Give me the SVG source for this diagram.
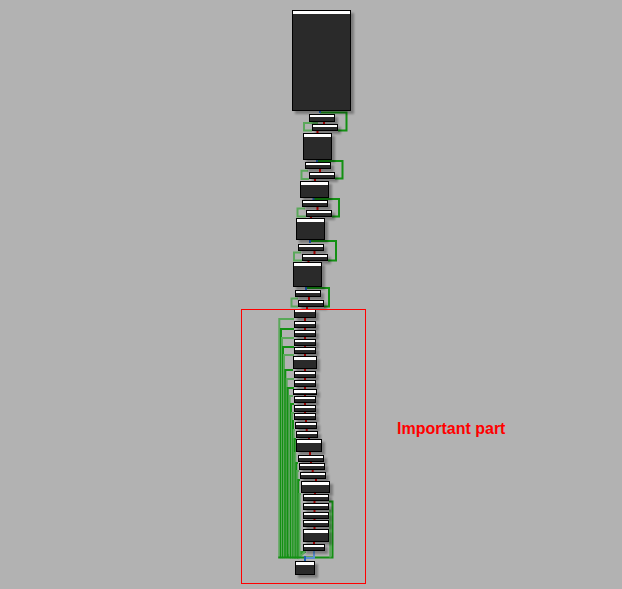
<svg xmlns="http://www.w3.org/2000/svg" width="622" height="589" viewBox="0 0 622 589">
<style>
.bx{fill:#2b2b2b;stroke:#000;stroke-width:1;filter:url(#sh)}
.hd{fill:#fff}
.dk{fill:none;stroke:#139013;stroke-width:2}
.lt{fill:none;stroke:#5aa85a;stroke-width:2}
.rd{fill:#d40000}
.bl{fill:#2060c0}
</style>
<defs>
<filter id="sh" filterUnits="userSpaceOnUse" x="0" y="0" width="622" height="589">
<feDropShadow dx="3" dy="3" stdDeviation="1.2" flood-color="#000" flood-opacity="0.3"/>
</filter>
</defs>
<rect x="0" y="0" width="622" height="589" fill="#b2b2b2"/>
<g id="connectors">
<path class="dk" d="M320 112.5 H346.5 V130.5 H338"/>
<path class="dk" d="M317 161 H342.5 V178.5 H335"/>
<path class="dk" d="M313.5 199 H339 V216.5 H332"/>
<path class="dk" d="M310 241 H336 V260.5 H328"/>
<path class="dk" d="M306 288 H329 V306.5 H324"/>
<path class="lt" d="M318 123 H304 V130.5 H312"/>
<path class="lt" d="M308 170.7 H301.5 V179 H309"/>
<path class="lt" d="M305 208.5 H297.5 V216.5 H306"/>
<path class="lt" d="M301 252.5 H294 V260.5 H302"/>
<path class="lt" d="M298 298.5 H291.5 V306.5 H298"/>
<path class="lt" d="M294 319 H279.3 V557 L305 551.5"/>
<path class="dk" d="M294 329 H281 V557 L305 551.5"/>
<path class="lt" d="M294 338 H282 V557 L305 551.5"/>
<path class="dk" d="M294 347 H283 V557 L305 551.5"/>
<path class="lt" d="M294 355 H284 V557 L305 551.5"/>
<path class="dk" d="M293 370 H285.3 V557 L305 551.5"/>
<path class="lt" d="M294 379 H286.7 V557 L305 551.5"/>
<path class="dk" d="M294 388 H287.7 V557 L305 551.5"/>
<path class="lt" d="M293 396 H289.7 V557 L305 551.5"/>
<path class="dk" d="M294 404 H291 V557 L305 551.5"/>
<path class="lt" d="M294 413 H292 V557 L305 551.5"/>
<path class="dk" d="M294 421 H293 V557 L305 551.5"/>
<path class="lt" d="M295 430 H293.7 V557 L305 551.5"/>
<path class="dk" d="M296 439 H294.7 V557 L305 551.5"/>
<path class="lt" d="M296 453 H295.3 V557 L305 551.5"/>
<path class="dk" d="M298 463 H296.3 V557 L305 551.5"/>
<path class="lt" d="M299 471 H297.3 V557 L305 551.5"/>
<path class="dk" d="M300 480 H298.3 V557 L305 551.5"/>
<path class="lt" d="M301 494 H299.5 V557 L305 551.5"/>
<path class="dk" d="M278.3 557.5 H305"/>
<path class="dk" d="M329 501.5 H332.5 V557.5 H305"/>
<path class="lt" d="M329 510.5 H330.3 V557.5"/>
<path d="M314 551 V558 H305" fill="none" stroke="#5a8fd0" stroke-width="2"/>
<path d="M305 556 V561" fill="none" stroke="#1f5fb0" stroke-width="2"/>
<rect class="bl" x="319" y="111" width="2" height="2"/>
<rect class="rd" x="323" y="122" width="2" height="2"/>
<rect class="rd" x="316.5" y="131" width="2" height="2"/>
<rect class="bl" x="316" y="160" width="2" height="2"/>
<rect class="rd" x="319" y="169" width="2" height="3"/>
<rect class="rd" x="314" y="179" width="2" height="2"/>
<rect class="bl" x="312.5" y="198" width="2" height="2"/>
<rect class="rd" x="316.5" y="207" width="2" height="3"/>
<rect class="rd" x="310" y="217" width="2" height="1.5"/>
<rect class="bl" x="309" y="240" width="2" height="3"/>
<rect class="rd" x="313.5" y="251" width="2" height="3"/>
<rect class="rd" x="307.5" y="261" width="2" height="1.5"/>
<rect class="bl" x="305" y="287" width="2" height="3"/>
<rect class="rd" x="308" y="297" width="2" height="3"/>
<rect class="rd" x="306" y="307" width="2" height="2"/>
<rect class="rd" x="304" y="318" width="2" height="3"/>
<rect class="rd" x="304" y="328" width="2" height="2"/>
<rect class="rd" x="304" y="337" width="2" height="2"/>
<rect class="rd" x="304" y="346" width="2" height="1.5"/>
<rect class="rd" x="304" y="354" width="2" height="2"/>
<rect class="rd" x="304" y="369" width="2" height="2"/>
<rect class="rd" x="304" y="378" width="2" height="2"/>
<rect class="rd" x="304" y="387" width="2" height="2"/>
<rect class="rd" x="304" y="395" width="2" height="1.5"/>
<rect class="rd" x="304" y="403" width="2" height="2"/>
<rect class="rd" x="304" y="412" width="2" height="1.5"/>
<rect class="rd" x="305" y="420" width="2" height="2"/>
<rect class="rd" x="305.7" y="429" width="2" height="2"/>
<rect class="rd" x="308" y="438" width="2" height="1.5"/>
<rect class="rd" x="309" y="452" width="2" height="3"/>
<rect class="rd" x="310" y="462" width="2" height="1.5"/>
<rect class="rd" x="311.7" y="470" width="2" height="2"/>
<rect class="rd" x="315" y="479" width="2" height="2"/>
<rect class="rd" x="314" y="493" width="2" height="1.5"/>
<rect class="rd" x="313.5" y="501" width="2" height="2"/>
<rect class="rd" x="313.5" y="510" width="2" height="2"/>
<rect class="rd" x="313.5" y="519" width="2" height="1.5"/>
<rect class="rd" x="313.5" y="527" width="2" height="2"/>
<rect class="rd" x="313" y="542" width="2" height="2"/>
</g>
<g id="n1"><rect class="bx" x="292.5" y="10.5" width="58" height="100"/><rect class="hd" x="293" y="11" width="57" height="3"/></g>
<g id="n2"><rect class="bx" x="309.5" y="114.5" width="25" height="7"/><rect class="hd" x="310" y="115" width="24" height="2"/></g>
<g id="n3"><rect class="bx" x="312.5" y="124.5" width="25" height="6"/><rect class="hd" x="313" y="125" width="24" height="2"/></g>
<g id="n4"><rect class="bx" x="303.5" y="133.5" width="28" height="26"/><rect class="hd" x="304" y="134" width="27" height="3"/></g>
<g id="n5"><rect class="bx" x="305.5" y="162.5" width="25" height="6"/><rect class="hd" x="306" y="163" width="24" height="2"/></g>
<g id="n6"><rect class="bx" x="309.5" y="172.5" width="25" height="6"/><rect class="hd" x="310" y="173" width="24" height="2"/></g>
<g id="n7"><rect class="bx" x="300.5" y="181.5" width="28" height="16"/><rect class="hd" x="301" y="182" width="27" height="3"/></g>
<g id="n8"><rect class="bx" x="302.5" y="200.5" width="25" height="6"/><rect class="hd" x="303" y="201" width="24" height="2"/></g>
<g id="n9"><rect class="bx" x="306.5" y="210.5" width="25" height="6"/><rect class="hd" x="307" y="211" width="24" height="2"/></g>
<g id="n10"><rect class="bx" x="296.5" y="218.5" width="28" height="21"/><rect class="hd" x="297" y="219" width="27" height="3"/></g>
<g id="n11"><rect class="bx" x="298.5" y="244.5" width="25" height="6"/><rect class="hd" x="299" y="245" width="24" height="2"/></g>
<g id="n12"><rect class="bx" x="302.5" y="254.5" width="25" height="6"/><rect class="hd" x="303" y="255" width="24" height="2"/></g>
<g id="n13"><rect class="bx" x="293.5" y="262.5" width="28" height="24"/><rect class="hd" x="294" y="263" width="27" height="3"/></g>
<g id="n14"><rect class="bx" x="295.5" y="290.5" width="25" height="6"/><rect class="hd" x="296" y="291" width="24" height="2"/></g>
<g id="n15"><rect class="bx" x="298.5" y="300.5" width="25" height="6"/><rect class="hd" x="299" y="301" width="24" height="2"/></g>
<g id="n16"><rect class="bx" x="294.5" y="309.5" width="21" height="8"/><rect class="hd" x="295" y="310" width="20" height="2"/></g>
<g id="n17"><rect class="bx" x="294.5" y="321.5" width="21" height="6"/><rect class="hd" x="295" y="322" width="20" height="2"/></g>
<g id="n18"><rect class="bx" x="294.5" y="330.5" width="21" height="6"/><rect class="hd" x="295" y="331" width="20" height="2"/></g>
<g id="n19"><rect class="bx" x="294.5" y="339.5" width="21" height="6"/><rect class="hd" x="295" y="340" width="20" height="2"/></g>
<g id="n20"><rect class="bx" x="294.5" y="347.5" width="21" height="6"/><rect class="hd" x="295" y="348" width="20" height="2"/></g>
<g id="n21"><rect class="bx" x="293.5" y="356.5" width="23" height="12"/><rect class="hd" x="294" y="357" width="22" height="3"/></g>
<g id="n22"><rect class="bx" x="294.5" y="371.5" width="21" height="6"/><rect class="hd" x="295" y="372" width="20" height="2"/></g>
<g id="n23"><rect class="bx" x="294.5" y="380.5" width="21" height="6"/><rect class="hd" x="295" y="381" width="20" height="2"/></g>
<g id="n24"><rect class="bx" x="293.5" y="389.5" width="23" height="5"/><rect class="hd" x="294" y="390" width="22" height="3"/></g>
<g id="n25"><rect class="bx" x="294.5" y="396.5" width="21" height="6"/><rect class="hd" x="295" y="397" width="20" height="2"/></g>
<g id="n26"><rect class="bx" x="294.5" y="405.5" width="21" height="6"/><rect class="hd" x="295" y="406" width="20" height="2"/></g>
<g id="n27"><rect class="bx" x="294.5" y="413.5" width="21" height="6"/><rect class="hd" x="295" y="414" width="20" height="2"/></g>
<g id="n28"><rect class="bx" x="295.5" y="422.5" width="21" height="6"/><rect class="hd" x="296" y="423" width="20" height="2"/></g>
<g id="n29"><rect class="bx" x="296.5" y="431.5" width="21" height="6"/><rect class="hd" x="297" y="432" width="20" height="2"/></g>
<g id="n30"><rect class="bx" x="296.5" y="439.5" width="25" height="12"/><rect class="hd" x="297" y="440" width="24" height="3"/></g>
<g id="n31"><rect class="bx" x="298.5" y="455.5" width="25" height="6"/><rect class="hd" x="299" y="456" width="24" height="2"/></g>
<g id="n32"><rect class="bx" x="299.5" y="463.5" width="25" height="6"/><rect class="hd" x="300" y="464" width="24" height="2"/></g>
<g id="n33"><rect class="bx" x="300.5" y="472.5" width="25" height="6"/><rect class="hd" x="301" y="473" width="24" height="2"/></g>
<g id="n34"><rect class="bx" x="301.5" y="481.5" width="28" height="11"/><rect class="hd" x="302" y="482" width="27" height="3"/></g>
<g id="n35"><rect class="bx" x="303.5" y="494.5" width="25" height="6"/><rect class="hd" x="304" y="495" width="24" height="2"/></g>
<g id="n36"><rect class="bx" x="303.5" y="503.5" width="25" height="6"/><rect class="hd" x="304" y="504" width="24" height="2"/></g>
<g id="n37"><rect class="bx" x="303.5" y="512.5" width="25" height="6"/><rect class="hd" x="304" y="513" width="24" height="2"/></g>
<g id="n38"><rect class="bx" x="303.5" y="520.5" width="25" height="6"/><rect class="hd" x="304" y="521" width="24" height="2"/></g>
<g id="n39"><rect class="bx" x="303.5" y="529.5" width="25" height="12"/><rect class="hd" x="304" y="530" width="24" height="3"/></g>
<g id="n40"><rect class="bx" x="303.5" y="544.5" width="21" height="6"/><rect class="hd" x="304" y="545" width="20" height="2"/></g>
<g id="n41"><rect class="bx" x="295.5" y="561.5" width="19" height="13"/><rect class="hd" x="296" y="562" width="18" height="3"/></g>
<g id="important">
<rect x="241.5" y="309.5" width="124" height="274" fill="none" stroke="#ff0000" stroke-width="1"/>
<text x="397" y="434" font-family="'Liberation Sans', Arial, sans-serif" font-weight="bold" font-size="16" fill="#ff0000">Important part</text>
</g>
</svg>
